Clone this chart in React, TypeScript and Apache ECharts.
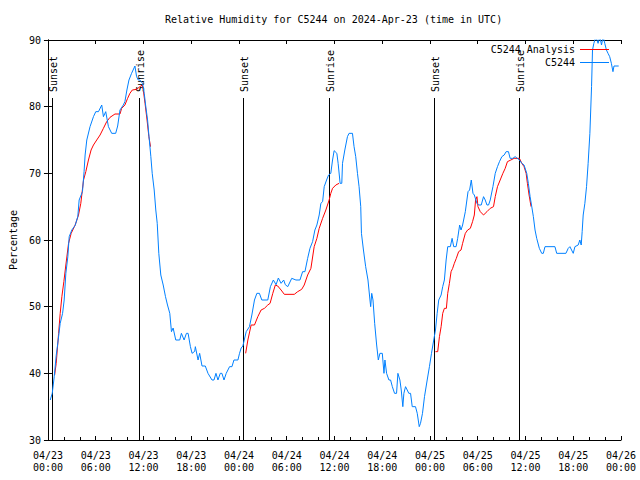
import React, { useEffect, useRef } from "react";
import * as echarts from "echarts";

// Hours since 2024-04-23 00:00 UTC
const obsHours = [
  0.29, 0.54, 0.79, 1.04, 1.21, 1.54, 1.84, 2.04, 2.25, 2.5, 2.67, 3.0, 3.42, 3.75, 3.92, 4.34, 4.54, 4.67, 4.88, 5.29,
  5.72, 6.01, 6.35, 6.76, 6.97, 7.26, 7.6, 8.01, 8.51, 8.76, 9.05, 9.47, 9.67, 9.92, 10.18, 10.51, 10.93, 11.14, 11.35, 11.55,
  11.89, 12.1, 12.27, 12.52, 12.68, 12.93, 13.1, 13.35, 13.55, 13.73, 13.93, 14.18, 14.48, 14.77, 15.02, 15.31, 15.52, 15.73, 16.06, 16.56,
  16.77, 17.11, 17.4, 17.61, 17.9, 18.11, 18.44, 18.52, 18.86, 19.06, 19.36, 19.77, 20.11, 20.61, 20.86, 21.11, 21.36, 21.65, 21.86, 22.12,
  22.4, 22.82, 23.12, 23.37, 23.87, 24.07, 24.28, 24.49, 24.91, 25.32, 25.62, 25.95, 26.25, 26.57, 26.87, 27.62, 27.95, 28.32, 28.66, 28.95,
  29.29, 29.62, 29.82, 30.13, 30.63, 31.16, 31.66, 32.0, 32.29, 32.63, 32.92, 33.25, 33.54, 33.79, 34.08, 34.29, 34.51, 34.71, 35.01, 35.26,
  35.54, 35.76, 35.96, 36.3, 36.46, 36.71, 36.92, 37.01, 37.3, 37.63, 37.83, 38.26, 38.46, 38.67, 38.89, 39.09, 39.3, 39.39, 39.64, 39.92,
  40.21, 40.46, 40.55, 40.68, 40.84, 41.05, 41.3, 41.51, 41.71, 42.01, 42.22, 42.34, 42.55, 42.84, 43.05, 43.27, 43.55, 43.8, 43.97, 44.22,
  44.39, 44.59, 44.72, 44.93, 45.14, 45.34, 45.56, 45.77, 46.18, 46.4, 46.65, 46.81, 47.06, 47.31, 47.65, 47.93, 48.19, 48.47, 48.69, 48.9,
  49.1, 49.4, 49.6, 49.81, 50.03, 50.23, 50.56, 50.78, 50.98, 51.28, 51.48, 51.73, 51.9, 52.1, 52.44, 52.78, 52.98, 53.19, 53.4, 53.57,
  53.9, 54.11, 54.44, 54.73, 54.94, 55.16, 55.36, 55.57, 55.91, 56.2, 56.48, 56.73, 57.03, 57.32, 57.57, 57.86, 58.07, 58.41, 58.7, 59.24,
  59.54, 59.82, 60.16, 60.36, 60.58, 60.79, 60.99, 61.2, 61.41, 61.74, 62.04, 62.24, 62.45, 63.08, 63.7, 63.92, 65.08, 65.37, 65.58, 65.79,
  66.0, 66.21, 66.62, 66.83, 67.0, 67.12, 67.25, 67.46, 67.67, 67.87, 68.09, 68.3, 68.42, 68.59, 68.84, 69.12, 69.34, 69.55, 69.75, 69.96,
  70.17, 70.37, 70.58, 70.79, 70.99, 71.12, 71.71,
];
const obsValues = [
  36, 37, 39.5, 42.7, 44.25, 47.5, 49, 51, 55, 57.5, 60.5, 61.5, 62.2, 63.5, 66, 67.25, 70.25, 72.75, 75, 77,
  78.5, 79.25, 79.25, 80.25, 78.5, 79.25, 77, 76, 76, 77.1, 79.5, 80.25, 80.75, 82.5, 84, 85, 86.1, 84.5, 84, 84,
  83.5, 82, 80.25, 78, 75.75, 72.5, 70, 67.5, 64.5, 62.5, 58, 54.75, 53.25, 51.5, 50.25, 49, 46.25, 46.8, 45, 45,
  46, 45, 46, 46, 44, 43, 43.3, 44, 42, 43, 41.1, 41.1, 40, 39, 39, 40, 39, 40, 40, 39,
  40, 41, 41, 42, 42, 43, 43.8, 44.1, 46.25, 47, 48.75, 51, 52, 52, 51, 51, 53, 54, 53.3, 54.3,
  53.5, 54, 53.3, 53, 54.25, 54, 54, 55.25, 55.25, 57.25, 58.75, 59.75, 61.5, 62.25, 63.75, 65.5, 65.75, 68, 69, 69.75,
  70, 72, 73.4, 73, 71.5, 68.5, 68.5, 71.5, 73.5, 75.5, 76, 76, 74, 72.5, 70, 68, 65, 61, 58.5, 56,
  54, 51, 50, 52, 51, 47.5, 44.25, 42, 43, 43, 40, 42, 40, 39, 39, 38, 37, 37, 40, 39,
  37.5, 35, 37, 38, 37.5, 37, 37, 35, 35, 34, 32, 32.5, 34, 36.5, 39, 41, 43, 45, 46.5, 49,
  51, 51.75, 53, 54, 57, 59, 59, 60.25, 59, 59, 60.25, 62.25, 61.5, 62.25, 64.25, 67.25, 67.5, 69, 67, 66.75,
  65.5, 65.25, 65.25, 66.5, 66, 65.25, 65.25, 66, 68, 70, 71, 71.75, 72.5, 72.75, 73.25, 73.25, 72.25, 72.25, 72.5, 72,
  71.5, 71.25, 70, 68.5, 66.5, 65, 63.5, 61.5, 60.25, 58.75, 58, 58, 59, 59, 59, 58, 58, 58.75, 59, 58.5,
  58, 59, 59.25, 60, 59.25, 61.25, 63.75, 65.5, 68, 71.5, 76, 83, 88.5, 89.5, 90.5, 89.5, 90.5, 89.25, 90.5, 89.5,
  88.5, 88, 87.5, 86.5, 85.25, 86.1, 86.1,
];

// Analysis: three segments (null = gap)
const anaHours = [
  0.84, 1.04, 1.34, 1.54, 1.75, 2.0, 2.25, 2.59, 2.92, 3.42, 3.84, 4.13, 4.47, 4.76, 5.09, 5.42, 5.72, 6.13, 6.55, 6.97,
  7.38, 7.8, 8.42, 9.05, 9.26, 9.67, 10.01, 10.3, 10.6, 11.14, 11.55, 11.85, 11.98, 12.2, 12.45, 12.68, 12.89,
  18,
  24.84, 25.12, 25.53, 25.95, 26.37, 26.78, 27.2, 27.62, 27.91, 28.25, 28.57, 28.87, 29.29, 29.7, 30.95, 31.38, 31.88, 32.2, 32.63, 33.04,
  33.45, 33.79, 34.08, 34.51, 34.92, 35.33, 35.54, 35.76, 36.17, 36.58,
  42,
  48.69, 48.97, 49.19, 49.4, 49.6, 49.81, 50.06, 50.23, 50.44, 50.65, 50.85, 51.06, 51.31, 51.6, 51.9, 52.1, 52.44, 52.73, 53.07, 53.35,
  53.57, 53.73, 53.9, 54.03, 54.32, 54.73, 55.16, 55.57, 55.98, 56.2, 56.48, 56.82, 57.16, 57.45, 57.73, 58.16, 58.57, 59.24, 59.54, 59.82,
  60.08, 60.24, 60.45, 60.7,
];
const anaValues: (number | null)[] = [
  39.75, 41.5, 46, 49, 51.5, 53.75, 56.25, 59.5, 61, 62.25, 63.75, 65.5, 69, 70.25, 72, 73.5, 74.25, 75, 75.75, 76.75,
  77.75, 78.4, 78.9, 78.9, 79.75, 80.25, 81.25, 82, 82.5, 82.6, 83, 83.25, 82.5, 80.5, 78, 75.5, 74,
  null,
  43, 45, 47.25, 47.25, 48.5, 49.5, 49.75, 50.25, 50.5, 52, 53.25, 53.1, 52.5, 51.85, 51.85, 52.25, 52.6, 53.25, 54.75, 55.75,
  59, 60.25, 61.75, 63.25, 64.5, 66, 67, 67.75, 68.25, 68.5,
  null,
  43.25, 43.25, 45.5, 47, 49, 49.75, 49.75, 52, 53.5, 55.25, 55.75, 56.5, 57.25, 58.25, 58.5, 59.5, 61, 61.5, 61.75, 62.75,
  63.75, 66, 66.5, 65, 64.25, 63.75, 64.25, 64.75, 65, 66.5, 68, 69, 70, 70.75, 71.75, 72, 72.25, 72.25, 71.5, 71,
  70, 68.5, 66.75, 65,
];

const sunTimes = [0.54, 11.4, 24.55, 35.3, 48.55, 59.2];
const sunLabels = ["Sunset", "Sunrise", "Sunset", "Sunrise", "Sunset", "Sunrise"];

const xTickLabels = [
  "04/23\n00:00", "04/23\n06:00", "04/23\n12:00", "04/23\n18:00",
  "04/24\n00:00", "04/24\n06:00", "04/24\n12:00", "04/24\n18:00",
  "04/25\n00:00", "04/25\n06:00", "04/25\n12:00", "04/25\n18:00",
  "04/26\n00:00",
];

const FONT = "'DejaVu Sans Mono', 'Liberation Mono', monospace";

export default function App() {
  const ref = useRef<HTMLDivElement>(null);
  useEffect(() => {
    if (!ref.current) return;
    const chart = echarts.init(ref.current, undefined, { renderer: "svg" });
    const blue = "#0080ff";
    const red = "#ff0000";
    const labelStyle = { color: "#000", fontFamily: FONT, fontSize: 10 };
    chart.setOption({
      animation: false,
      backgroundColor: "#fff",
      title: {
        text: "Relative Humidity for C5244 on 2024-Apr-23 (time in UTC)",
        left: 160,
        top: 9,
        textStyle: { color: "#000", fontFamily: FONT, fontSize: 10, fontWeight: "normal" },
      },
      legend: {
        orient: "vertical",
        right: 26,
        top: 38,
        align: "right",
        itemWidth: 29,
        itemHeight: 1,
        itemGap: 0,
        icon: "rect",
        textStyle: { ...labelStyle, lineHeight: 13 },
        data: [
          { name: "C5244 Analysis", itemStyle: { color: red } },
          { name: "C5244", itemStyle: { color: blue } },
        ],
      },
      grid: { left: 46, right: 19, top: 40, bottom: 40, show: false },
      xAxis: [
        {
          type: "value",
          min: 0,
          max: 72,
          interval: 6,
          position: "bottom",
          axisLine: { show: true, lineStyle: { color: "#000", width: 1 } },
          axisTick: { show: true, inside: true, length: 4, lineStyle: { color: "#000" } },
          minorTick: { show: true, splitNumber: 3, length: 3, lineStyle: { color: "#000" } },
          splitLine: { show: false },
          axisLabel: {
            ...labelStyle,
            margin: 9,
            lineHeight: 12,
            showMinLabel: true,
            showMaxLabel: true,
            formatter: (v: number) => xTickLabels[Math.round(v / 6)] ?? "",
          },
        },
        {
          type: "value",
          min: 0,
          max: 72,
          interval: 6,
          position: "top",
          axisLine: { show: true, lineStyle: { color: "#000", width: 1 } },
          axisTick: { show: true, inside: true, length: 4, lineStyle: { color: "#000" } },
          splitLine: { show: false },
          axisLabel: { show: false },
        },
      ],
      yAxis: [
        {
          type: "value",
          min: 30,
          max: 90,
          interval: 10,
          position: "left",
          name: "Percentage",
          nameLocation: "middle",
          nameRotate: 90,
          nameGap: 29,
          nameTextStyle: { ...labelStyle },
          axisLine: { show: true, lineStyle: { color: "#000", width: 1 } },
          axisTick: { show: true, inside: true, length: 4, lineStyle: { color: "#000" } },
          splitLine: { show: false },
          axisLabel: { ...labelStyle, margin: 7 },
        },
        {
          type: "value",
          min: 30,
          max: 90,
          interval: 10,
          position: "right",
          axisLine: { show: true, lineStyle: { color: "#000", width: 1 } },
          axisTick: { show: true, inside: true, length: 4, lineStyle: { color: "#000" } },
          splitLine: { show: false },
          axisLabel: { show: false },
        },
      ],
      series: [
        {
          type: "custom",
          name: "sun",
          xAxisIndex: 0,
          yAxisIndex: 0,
          silent: true,
          data: sunTimes.map((t) => [t, 30]),
          renderItem: (params: any, api: any) => {
            const t = api.value(0);
            const bottom = api.coord([t, 30]);
            const topY = api.coord([t, 90])[1] + 58;
            const x = Math.round(bottom[0]) + 0.5;
            return {
              type: "group",
              children: [
                {
                  type: "line",
                  shape: { x1: x, y1: bottom[1], x2: x, y2: topY },
                  style: { stroke: "#000", lineWidth: 1 },
                },
                {
                  type: "text",
                  x: x + 1,
                  y: topY - 6,
                  rotation: Math.PI / 2,
                  style: {
                    text: sunLabels[params.dataIndex],
                    fill: "#000",
                    font: `10px ${FONT}`,
                    align: "left",
                    verticalAlign: "middle",
                  },
                },
              ],
            };
          },
        },
        {
          type: "line",
          name: "C5244 Analysis",
          xAxisIndex: 0,
          yAxisIndex: 0,
          showSymbol: false,
          symbol: "none",
          connectNulls: false,
          lineStyle: { color: red, width: 1 },
          itemStyle: { color: red },
          data: anaHours.map((h, i) => [h, anaValues[i] === null ? "-" : anaValues[i]]),
        },
        {
          type: "line",
          name: "C5244",
          xAxisIndex: 0,
          yAxisIndex: 0,
          showSymbol: false,
          symbol: "none",
          lineStyle: { color: blue, width: 1 },
          itemStyle: { color: blue },
          data: obsHours.map((h, i) => [h, obsValues[i]]),
        },
      ],
    });
    return () => chart.dispose();
  }, []);
  return (
    <div
      ref={ref}
      style={{ position: "fixed", left: 0, top: 0, width: 640, height: 480, background: "#fff" }}
    />
  );
}
